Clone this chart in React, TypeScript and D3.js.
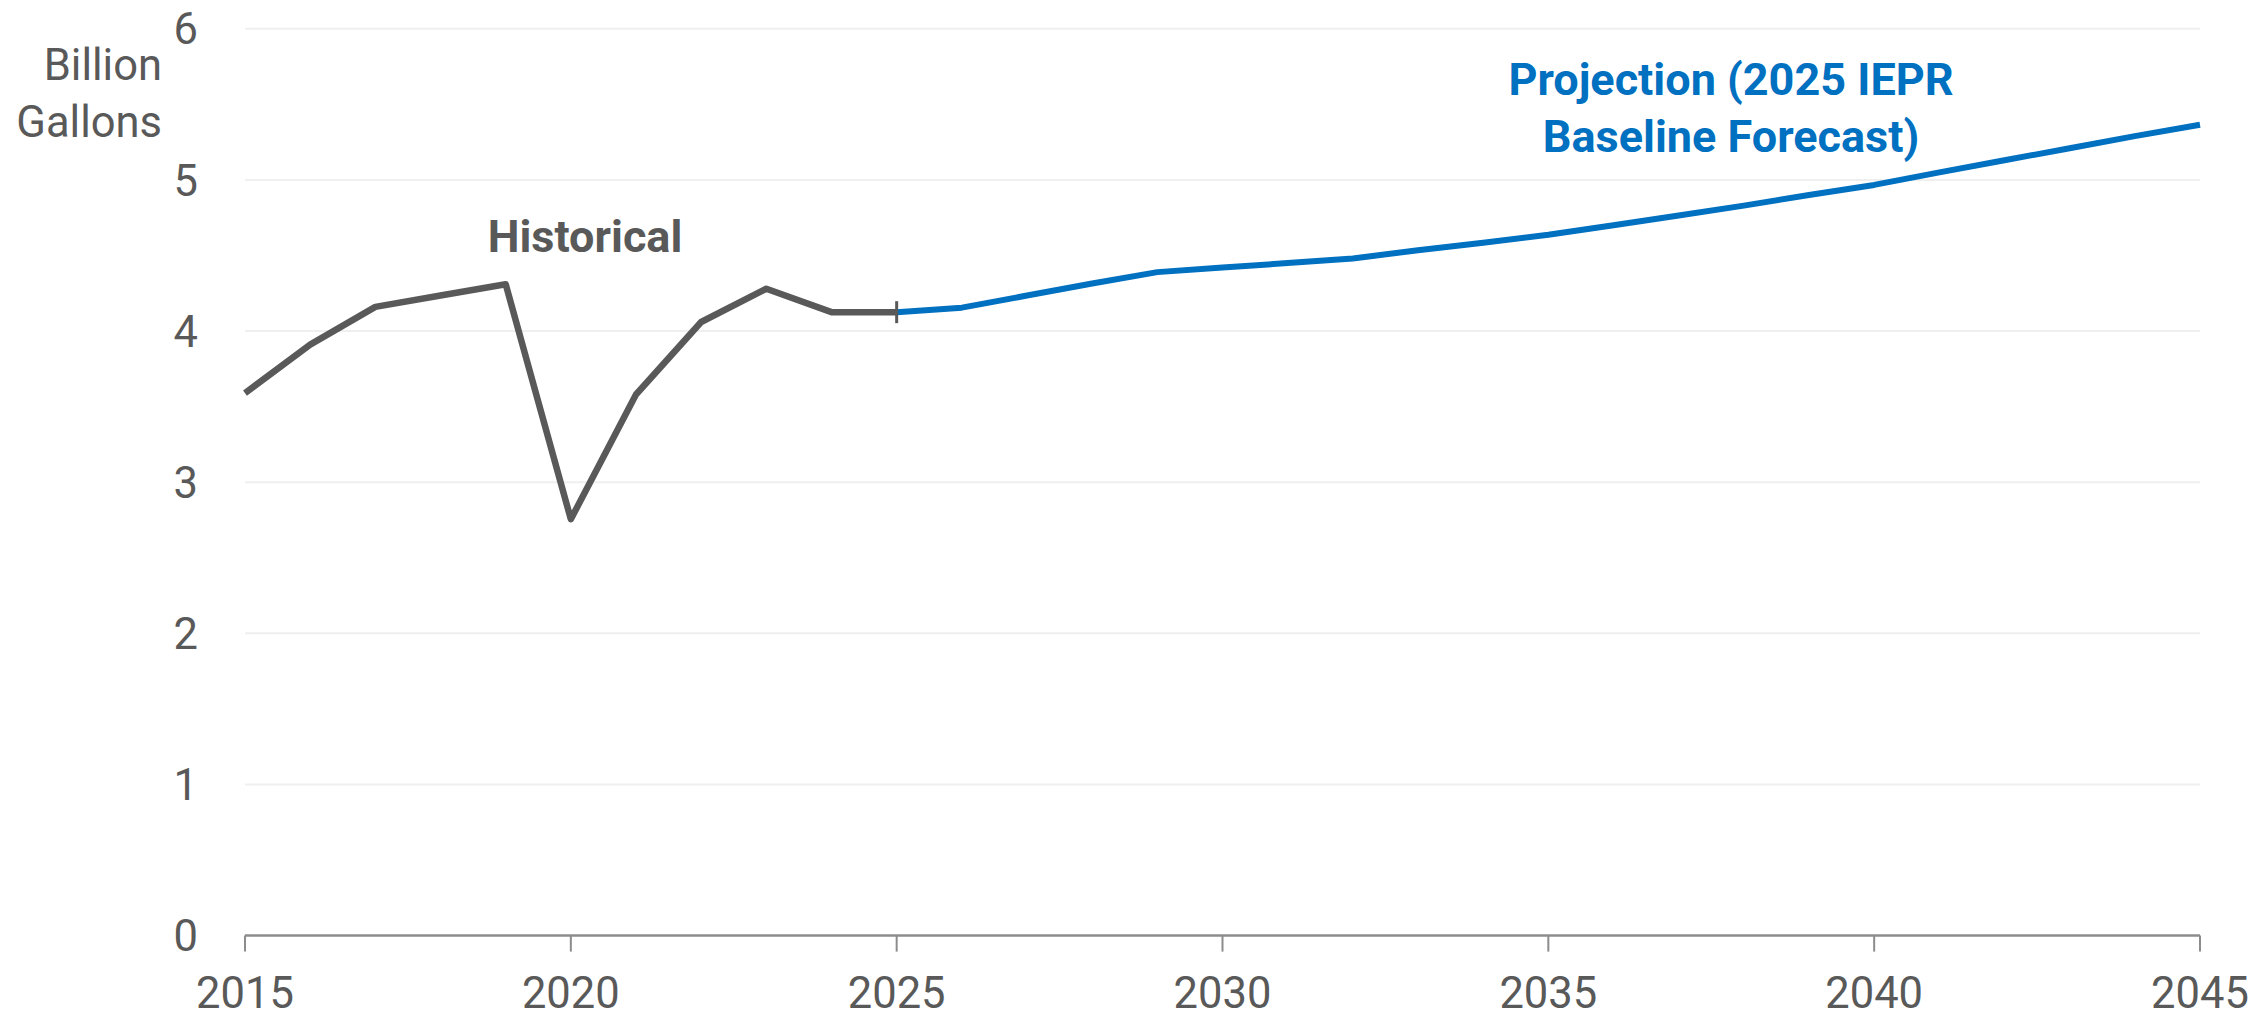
import React from "react";
import * as d3 from "d3";

const histYears = [2015, 2016, 2017, 2018, 2019, 2020, 2021, 2022, 2023, 2024, 2025];
const histValues = [3.59, 3.91, 4.16, 4.235, 4.31, 2.755, 3.58, 4.06, 4.28, 4.125, 4.125];

const projYears = [2025, 2026, 2027, 2028, 2029, 2030, 2031, 2032, 2033, 2034, 2035, 2036, 2037, 2038, 2039, 2040, 2041, 2042, 2043, 2044, 2045];
const projValues = [4.125, 4.155, 4.235, 4.315, 4.39, 4.42, 4.45, 4.48, 4.535, 4.585, 4.637, 4.70, 4.765, 4.83, 4.90, 4.967, 5.05, 5.13, 5.21, 5.29, 5.365];

const yTicks = [0, 1, 2, 3, 4, 5, 6];
const xTicks = [2015, 2020, 2025, 2030, 2035, 2040, 2045];
const yAxisLabel = ["Billion", "Gallons"];
const histLabel = "Historical";
const projLabel = ["Projection (2025 IEPR", "Baseline Forecast)"];

const W = 2257;
const H = 1018;
const FONT = "Roboto, 'Open Sans', sans-serif";
const GRAY = "#595959";
const BLUE = "#0070C0";

export default function App() {
  const x = d3.scaleLinear().domain([2015, 2045]).range([245, 2200]);
  const y = d3.scaleLinear().domain([0, 6]).range([935.6, 28.8]);

  const line = d3
    .line<[number, number]>()
    .x((d) => x(d[0]))
    .y((d) => y(d[1]))
    .curve(d3.curveLinear);

  const histData = histYears.map((yr, i) => [yr, histValues[i]] as [number, number]);
  const projData = projYears.map((yr, i) => [yr, projValues[i]] as [number, number]);
  const markerYear = histYears[histYears.length - 1];
  const markerVal = histValues[histValues.length - 1];

  return (
    <svg
      width={W}
      height={H}
      style={{ position: "absolute", left: 0, top: 0, display: "block", background: "#fff" }}
      fontFamily={FONT}
    >
      {/* gridlines */}
      {yTicks
        .filter((t) => t !== 0)
        .map((t) => (
          <line key={"g" + t} x1={x(2015)} x2={x(2045)} y1={y(t)} y2={y(t)} stroke="#EFEFEF" strokeWidth={2} />
        ))}
      {/* x axis */}
      <line x1={x(2015)} x2={x(2045)} y1={y(0)} y2={y(0)} stroke="#8C8C8C" strokeWidth={2.5} />
      {xTicks.map((t) => (
        <g key={"x" + t}>
          <line x1={x(t)} x2={x(t)} y1={y(0)} y2={y(0) + 16} stroke="#8C8C8C" strokeWidth={2} />
          <text x={x(t)} y={1008} textAnchor="middle" fontSize={43.5} fill={GRAY}>
            {t}
          </text>
        </g>
      ))}
      {/* y tick labels */}
      {yTicks.map((t) => (
        <text key={"y" + t} x={198} y={y(t)} dy="0.36em" textAnchor="end" fontSize={43.5} fill={GRAY}>
          {t}
        </text>
      ))}
      {/* y axis label */}
      {yAxisLabel.map((s, i) => (
        <text key={s} x={162} y={80 + i * 57} textAnchor="end" fontSize={43.5} fill={GRAY}>
          {s}
        </text>
      ))}
      {/* lines */}
      <path d={line(projData) || ""} fill="none" stroke={BLUE} strokeWidth={6} strokeLinejoin="round" />
      <path d={line(histData) || ""} fill="none" stroke={GRAY} strokeWidth={6.5} strokeLinejoin="round" />
      <line
        x1={x(markerYear)}
        x2={x(markerYear)}
        y1={y(markerVal) - 11}
        y2={y(markerVal) + 11}
        stroke={GRAY}
        strokeWidth={3}
      />
      {/* annotations */}
      <text x={585} y={252} textAnchor="middle" fontSize={45} fontWeight="bold" fill={GRAY}>
        {histLabel}
      </text>
      {projLabel.map((s, i) => (
        <text key={s} x={1731} y={95 + i * 57} textAnchor="middle" fontSize={45} fontWeight="bold" fill={BLUE}>
          {s}
        </text>
      ))}
    </svg>
  );
}
